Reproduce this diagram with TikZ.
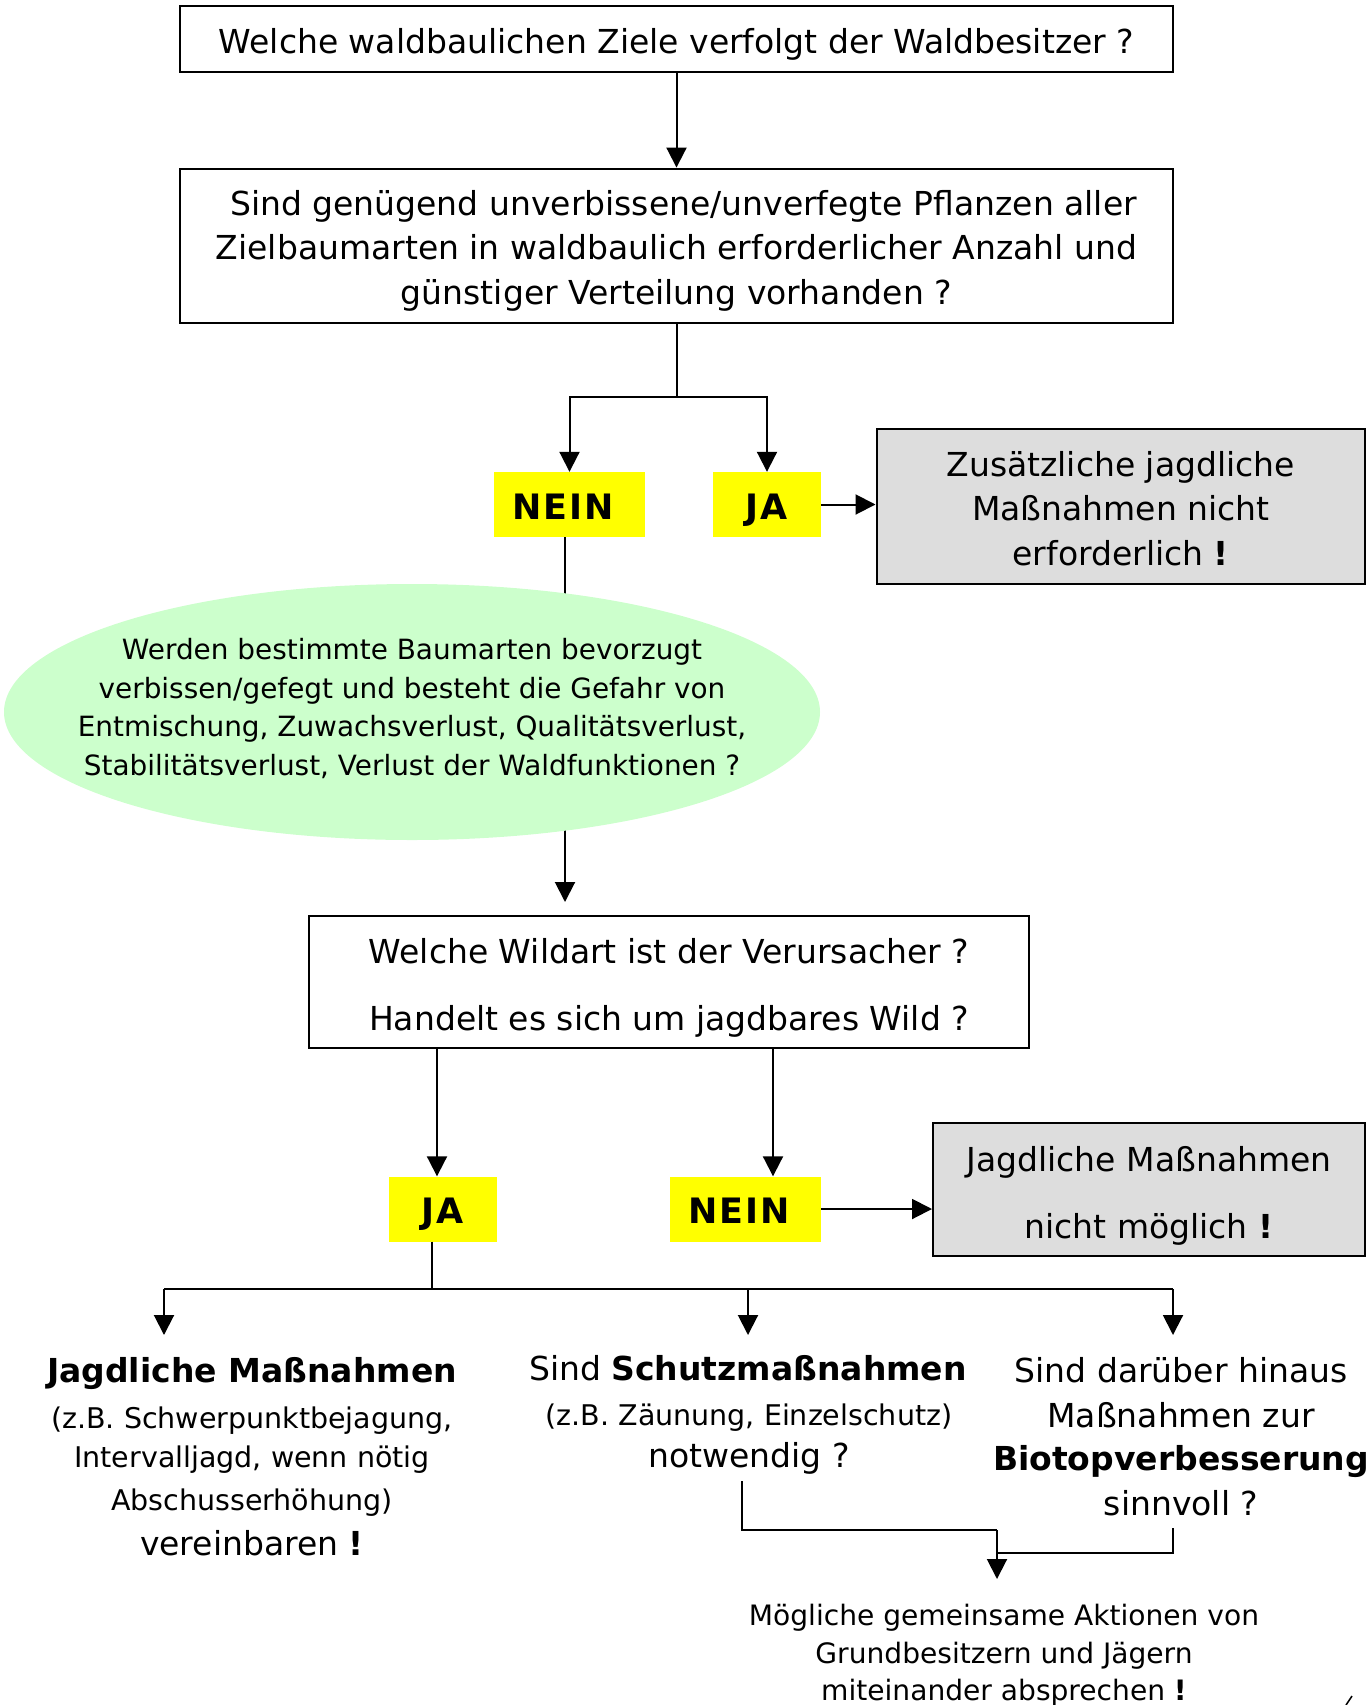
\documentclass[tikz,border=0pt]{standalone}
\usepackage{fontspec}
\setmainfont{DejaVu Sans}
\newfontfamily\yelfont{DejaVu Sans}[LetterSpace=6]
\usetikzlibrary{arrows.meta,backgrounds,calc,shapes.geometric}
\definecolor{greybg}{HTML}{DDDDDD}
\definecolor{ellgreen}{HTML}{CCFFCC}
\definecolor{yel}{HTML}{FFFF00}
\newcommand\fs[2]{\fontsize{#1}{#2}\selectfont}
\tikzset{
  x=1pt,y=-1pt,
  box/.style={draw, line width=2pt, inner sep=0pt},
  greybox/.style={box, fill=greybg},
  boxtxt/.style={inner sep=0pt, align=center, font=\fs{33}{44.5}},
  yelbox/.style={fill=yel, inner sep=0pt, text height=29pt, text depth=0pt, font=\yelfont\bfseries\fs{35}{40}},
  arr/.style={-{Triangle[width=20pt,length=20pt]}, line width=2pt},
  ln/.style={line width=2pt},
  txt/.style={inner sep=0pt, anchor=base},
}
\begin{document}
\begin{tikzpicture}
\useasboundingbox (0,0) rectangle (1367,1705);
% boxes
\node[box, minimum width=993pt, minimum height=66pt] (b1) at (676.5,38.8) {};
\node[boxtxt] (b1t) at ([yshift=-6pt]b1.center)
  {Welche waldbaulichen Ziele verfolgt der Waldbesitzer ?};
\node[box, minimum width=993pt, minimum height=154.5pt] (b2) at (676.5,245.8) {};
\node[boxtxt] (b2t) at ([yshift=-5pt]b2.center)
  {\hspace*{14pt}Sind genügend unverbissene/unverfegte Pflanzen aller\\Zielbaumarten in waldbaulich erforderlicher Anzahl und\\günstiger Verteilung vorhanden ?};
\node[yelbox, minimum width=151pt, minimum height=65pt] (n1) at (569.5,504.5) {\hspace*{-13pt}NEIN};
\node[yelbox, minimum width=108pt, minimum height=65pt] (j1) at (767,504.5) {JA};
\node[greybox, minimum width=488.5pt, minimum height=155.5pt] (g1) at (1120.75,506.25) {};
\node[boxtxt] (g1t) at ([yshift=-2pt]g1.center)
  {Zusätzliche jagdliche\\Maßnahmen nicht\\erforderlich \textbf{!}};
\node[ellipse, fill=ellgreen, inner sep=0pt, minimum width=816pt, minimum height=256pt] (ell) at (412,712) {};
\node[inner sep=0pt, align=center, font=\fs{27.9}{38.5}] (et) at (412,708.5)
  {Werden bestimmte Baumarten bevorzugt\\verbissen/gefegt und besteht die Gefahr von\\Entmischung, Zuwachsverlust, Qualitätsverlust,\\Stabilitätsverlust, Verlust der Waldfunktionen ?};
\node[box, minimum width=720pt, minimum height=132pt] (b3) at (669,982) {};
\node[boxtxt] (b3t) at ([yshift=-6pt]b3.center)
  {Welche Wildart ist der Verursacher ?\\[22.5pt]Handelt es sich um jagdbares Wild ?};
\node[yelbox, minimum width=108pt, minimum height=65pt] (j2) at (443,1209) {JA};
\node[yelbox, minimum width=151pt, minimum height=65pt] (n2) at (745.5,1209) {\hspace*{-13pt}NEIN};
\node[greybox, minimum width=432pt, minimum height=133pt] (g2) at (1149,1189.5) {};
\node[boxtxt] (g2t) at ([yshift=-6pt]g2.center)
  {Jagdliche Maßnahmen\\[22.5pt]nicht möglich \textbf{!}};
% bottom texts
\node[txt, font=\bfseries\fs{33}{40}] (t1a) at (252,1382) {Jagdliche Maßnahmen};
\node[txt, font=\fs{28.5}{35}] (t1b) at (252,1428) {(z.B. Schwerpunktbejagung,};
\node[txt, font=\fs{28.5}{35}] (t1c) at (252,1467) {Intervalljagd, wenn nötig};
\node[txt, font=\fs{28.5}{35}] (t1d) at (252,1510) {Abschusserhöhung)};
\node[txt, font=\fs{33}{40}] (t1e) at (252,1555) {vereinbaren \textbf{!}};
\node[txt, font=\fs{33}{40}] (t2a) at (748,1380) {Sind \textbf{Schutzmaßnahmen}};
\node[txt, font=\fs{28.5}{35}] (t2b) at (749,1425) {(z.B. Zäunung, Einzelschutz)};
\node[txt, font=\fs{33}{40}] (t2c) at (749,1467) {notwendig ?};
\node[txt, font=\fs{33}{40}] (t3a) at (1181,1382) {Sind darüber hinaus};
\node[txt, font=\fs{33}{40}] (t3b) at (1181,1427) {Maßnahmen zur};
\node[txt, font=\bfseries\fs{33}{40}] (t3c) at (1181,1470) {Biotopverbesserung};
\node[txt, font=\fs{33}{40}] (t3d) at (1181,1515) {sinnvoll ?};
\node[txt, font=\fs{28.1}{38}] (t4a) at (1004,1625) {Mögliche gemeinsame Aktionen von};
\node[txt, font=\fs{28.1}{38}] (t4b) at (1004,1663) {Grundbesitzern und Jägern};
\node[txt, font=\fs{28.1}{38}] (t4c) at (1004,1700) {miteinander absprechen \textbf{!}};
% connectors
\draw[arr] (b1) -- (b2);
\coordinate (s1) at (676.5,397);
\draw[ln] (b2.south) -- (s1);
\draw[arr] (s1) -| (n1.north);
\draw[arr] (s1) -| (j1.north);
\draw[arr] (j1.east) -- (j1.east -| g1.west);
\begin{pgfonlayer}{background}
\draw[ln] ([xshift=-4.5pt]n1.south) -- ([xshift=-4.5pt]n1.south |- ell.center);
\draw[arr, shorten >=13pt] ([xshift=-4.5pt]n1.south |- ell.center) -- ([xshift=-4.5pt]n1.south |- b3.north);
\end{pgfonlayer}
\draw[arr] ([xshift=-6pt]j2.north |- b3.south) -- ([xshift=-6pt]j2.north);
\draw[arr] ([xshift=27.5pt]n2.north |- b3.south) -- ([xshift=27.5pt]n2.north);
\draw[arr] (n2.east) -- (n2.east -| g2.west);
\coordinate (bus) at (432,1289);
\coordinate (c1) at (164,1289);
\coordinate (c2) at (748,1289);
\coordinate (c3) at (1173,1289);
\coordinate (d1) at (164,1335);
\coordinate (d2) at (748,1335);
\coordinate (d3) at (1173,1335);
\draw[ln] (j2.south -| bus) -- (bus);
\draw[ln] (c1) -- (c3);
\draw[arr] (c1) -- (d1);
\draw[arr] (c2) -- (d2);
\draw[arr] (c3) -- (d3);
\coordinate (p1) at (742,1481);
\coordinate (p2) at (1173,1528);
\coordinate (m) at (997,1530);
\coordinate (m2) at (997,1553);
\coordinate (mt) at (997,1579);
\draw[ln] (p1) |- (m);
\draw[arr] (m) -- (mt);
\draw[ln] (p2) |- (m2);
\draw[line width=1.5pt] (1346,1705) -- (1352,1696);
\end{tikzpicture}
\end{document}
